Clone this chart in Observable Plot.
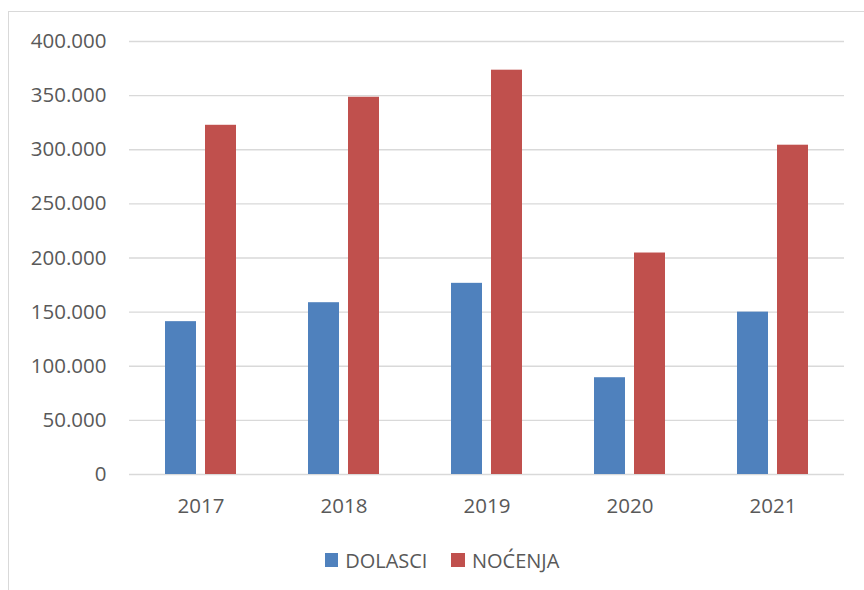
<!DOCTYPE html>
<html>
<head>
<meta charset="utf-8">
<script src="https://cdn.jsdelivr.net/npm/d3@7"></script>
<script src="https://cdn.jsdelivr.net/npm/@observablehq/plot@0.6"></script>
<style>
  html, body { margin: 0; padding: 0; background: #fff; }
  #wrap { position: relative; width: 864px; height: 590px; overflow: hidden; font-family: "Open Sans", sans-serif; }
  #frame { position: absolute; left: 8px; top: 11px; right: -10px; bottom: -10px; border-left: 1.5px solid #d9d9d9; border-top: 1.5px solid #d9d9d9; pointer-events: none; }
  #legend { height: 60px; display: flex; align-items: center; justify-content: center; font-size: 20px; color: #595959; padding-left: 20px; box-sizing: border-box; }
  .item { display: flex; align-items: center; margin: 0 12px; }
  .sw { width: 13.5px; height: 13.5px; margin-right: 7px; }
</style>
</head>
<body>
<div id="wrap">
  <div id="chart"></div>
  <div id="legend"></div>
  <div id="frame"></div>
</div>
<script>
const years = ["2017", "2018", "2019", "2020", "2021"];
const series = ["DOLASCI", "NOĆENJA"];
const dolasci = [141200, 158700, 176600, 89400, 150000];
const nocenja = [322600, 348500, 373500, 204600, 304200];
const colors = ["#4F81BD", "#C0504D"];
const yTicks = [0, 50000, 100000, 150000, 200000, 250000, 300000, 350000, 400000];

const data = [];
years.forEach((yr, i) => {
  data.push({year: yr, series: series[0], value: dolasci[i]});
  data.push({year: yr, series: series[1], value: nocenja[i]});
});

const locale = d3.formatLocale({decimal: ",", thousands: ".", grouping: [3], currency: ["", ""]});
const fmt = locale.format(",d");

const chart = Plot.plot({
  width: 864,
  height: 530,
  marginLeft: 127,
  marginRight: 19,
  marginTop: 41,
  marginBottom: 56,
  style: {fontFamily: "Open Sans, sans-serif", fontSize: "20.5px", color: "#595959", background: "#fff"},
  fx: {domain: years, padding: 0, axis: "bottom", tickSize: 0, tickPadding: 24, label: null},
  x: {domain: series, paddingInner: 0.22, paddingOuter: 0.86, axis: null},
  y: {domain: [0, 400000], ticks: yTicks, tickFormat: fmt, tickSize: 0, tickPadding: 23, label: null},
  color: {domain: series, range: colors},
  marks: [
    Plot.gridY(yTicks, {stroke: "#d9d9d9", strokeOpacity: 1, strokeWidth: 1.4}),
    Plot.barY(data, {fx: "year", x: "series", y: "value", fill: "series"})
  ]
});
document.getElementById("chart").appendChild(chart);

const legend = document.getElementById("legend");
series.forEach((s, i) => {
  const item = document.createElement("div");
  item.className = "item";
  const sw = document.createElement("div");
  sw.className = "sw";
  sw.style.background = colors[i];
  const t = document.createElement("span");
  t.textContent = s;
  item.appendChild(sw);
  item.appendChild(t);
  legend.appendChild(item);
});
</script>
</body>
</html>
